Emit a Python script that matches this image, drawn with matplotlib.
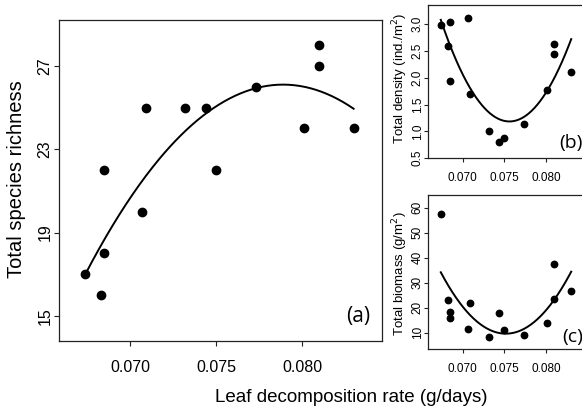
import matplotlib
matplotlib.use("Agg")
import matplotlib.pyplot as plt
import numpy as np

plt.rcParams['font.family'] = ['Liberation Sans', 'DejaVu Sans']

# leaf decomposition rate (g/days), shared by all three panels
decomp = [0.0674, 0.0683, 0.0685, 0.0685, 0.0707, 0.0709, 0.0732,
          0.0744, 0.0750, 0.0773, 0.0801, 0.0810, 0.0810, 0.0830]

richness = [17, 16, 22, 18, 20, 25, 25, 25, 22, 26, 24, 28, 27, 24]
density = [2.99, 2.60, 3.05, 1.94, 3.12, 1.69, 1.01,
           0.79, 0.88, 1.14, 1.77, 2.63, 2.45, 2.10]
biomass = [57.4, 23.1, 18.2, 15.8, 11.5, 21.9, 8.2,
           18.0, 11.3, 9.2, 13.8, 37.5, 23.5, 26.8]

# quadratic fit drawn in panel (a): vertex x, vertex y, curvature
richness_fit = (0.0789, 26.1, -68800.0)

W, H = 582, 413


def box(left, right, top, bottom):
    return [left / W, 1 - bottom / H, (right - left) / W, (bottom - top) / H]


def quad_curve(ax, x, y, vertex=None):
    x = np.asarray(x)
    xs = np.linspace(x.min(), x.max(), 200)
    if vertex is None:
        coef = np.polyfit(x, np.asarray(y), 2)
        ys = np.polyval(coef, xs)
    else:
        h, k, a = vertex
        ys = k + a * (xs - h) ** 2
    ax.plot(xs, ys, color='black', lw=1.4)


def style(ax, fs, xpad, ypad, ticklen):
    for s in ax.spines.values():
        s.set_color('#222222')
        s.set_linewidth(0.9)
    ax.tick_params(direction='out', length=ticklen, width=0.8, labelsize=fs,
                   color='#222222')
    ax.tick_params(axis='x', pad=xpad)
    ax.tick_params(axis='y', labelrotation=90, pad=ypad)
    for lab in ax.get_yticklabels():
        lab.set_verticalalignment('center')


fig = plt.figure(figsize=(W / 100, H / 100), dpi=100)

# (a) species richness
ax_a = fig.add_axes(box(59, 382, 20, 341))
ax_a.plot(decomp, richness, 'o', color='black', ms=6.0)
quad_curve(ax_a, decomp, richness, richness_fit)
ax_a.set_xlim(0.06587, 0.08465)
ax_a.set_ylim(13.8, 29.2)
ax_a.set_xticks([0.070, 0.075, 0.080])
ax_a.set_xticklabels(['0.070', '0.075', '0.080'])
ax_a.set_yticks([15, 19, 23, 27])
style(ax_a, 11.5, 10, 1, 3.8)
ax_a.text(0.965, 0.075, '(a)', transform=ax_a.transAxes, ha='right',
          va='center', fontsize=15, family='Open Sans')
fig.text(17 / W, 1 - 179 / H, 'Total species richness', rotation=90,
         ha='center', va='center', fontsize=14.5)

# (b) density
ax_b = fig.add_axes(box(428, 585, 5, 158))
ax_b.plot(decomp, density, 'o', color='black', ms=4.6)
quad_curve(ax_b, decomp, density)
ax_b.set_xlim(0.06587, 0.08465)
ax_b.set_ylim(0.5, 3.36)
ax_b.set_xticks([0.070, 0.075, 0.080])
ax_b.set_xticklabels(['0.070', '0.075', '0.080'])
ax_b.set_yticks([0.5, 1.0, 1.5, 2.0, 2.5, 3.0])
style(ax_b, 8.5, 7, 0, 3)
ax_b.text(0.985, 0.1, '(b)', transform=ax_b.transAxes, ha='right',
          va='center', fontsize=14, family='Open Sans')
fig.text(400 / W, 1 - 78 / H, 'Total density (ind./m$^2$)', rotation=90,
         ha='center', va='center', fontsize=9.5)

# (c) biomass
ax_c = fig.add_axes(box(428, 585, 195, 349))
ax_c.plot(decomp, biomass, 'o', color='black', ms=4.6)
quad_curve(ax_c, decomp, biomass)
ax_c.set_xlim(0.06587, 0.08465)
ax_c.set_ylim(3.5, 65.1)
ax_c.set_xticks([0.070, 0.075, 0.080])
ax_c.set_xticklabels(['0.070', '0.075', '0.080'])
ax_c.set_yticks([10, 20, 30, 40, 50, 60])
style(ax_c, 8.5, 7, 0, 3)
ax_c.text(0.985, 0.08, '(c)', transform=ax_c.transAxes, ha='right',
          va='center', fontsize=14, family='Open Sans')
fig.text(400 / W, 1 - 274 / H, 'Total biomass (g/m$^2$)', rotation=90,
         ha='center', va='center', fontsize=9.5)

fig.text(351 / W, 1 - 398 / H, 'Leaf decomposition rate (g/days)',
         ha='center', va='center', fontsize=13.5)

fig.savefig('out.png', dpi=100)
